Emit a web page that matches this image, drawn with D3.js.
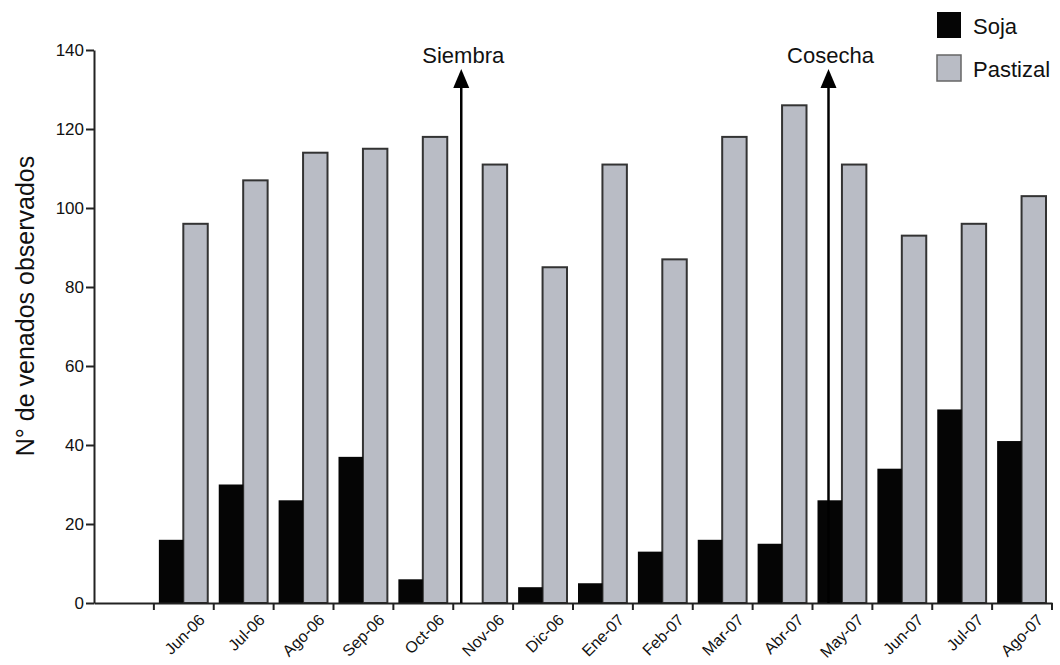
<!DOCTYPE html>
<html>
<head>
<meta charset="utf-8">
<script src="https://cdn.jsdelivr.net/npm/d3@7"></script>
<style>
  body { margin: 0; background: #fff; }
  svg { display: block; font-family: "Liberation Sans", Arial, sans-serif; }
  .axis path, .axis line { stroke: #222; stroke-width: 2; }
  .axis text { font-size: 17px; fill: #111; font-family: "Liberation Sans", Arial, sans-serif; }
</style>
</head>
<body>
<div id="chart"></div>
<script>
const months = ["Jun-06", "Jul-06", "Ago-06", "Sep-06", "Oct-06", "Nov-06", "Dic-06", "Ene-07",
  "Feb-07", "Mar-07", "Abr-07", "May-07", "Jun-07", "Jul-07", "Ago-07"];
const soja = [16, 30, 26, 37, 6, 0, 4, 5, 13, 16, 15, 26, 34, 49, 41];
const pastizal = [96, 107, 114, 115, 118, 111, 85, 111, 87, 118, 126, 111, 93, 96, 103];
const series = ["Soja", "Pastizal"];
const yTicks = [0, 20, 40, 60, 80, 100, 120, 140];
const events = [{ label: "Siembra", month: "Nov-06" }, { label: "Cosecha", month: "May-07" }];

const W = 1060, H = 665;
const colors = { Soja: "#050505", Pastizal: "#b9bcc5" };

const svg = d3.select("#chart").append("svg")
  .attr("width", W)
  .attr("height", H);

// first band is left empty, like the original
const x = d3.scaleBand()
  .domain([""].concat(months))
  .range([94, 1052]);
const bw = x.bandwidth();

const inner = d3.scaleBand()
  .domain(series)
  .range([5, bw - 6]);

const y = d3.scaleLinear()
  .domain([0, 140])
  .range([603, 50]);

// bars
const groups = svg.selectAll("g.month")
  .data(months)
  .enter().append("g")
  .attr("class", "month")
  .attr("transform", d => `translate(${x(d)},0)`);

groups.append("rect")
  .attr("x", inner("Pastizal"))
  .attr("y", (d, i) => y(pastizal[i]))
  .attr("width", inner.bandwidth())
  .attr("height", (d, i) => y(0) - y(pastizal[i]))
  .attr("fill", colors.Pastizal)
  .attr("stroke", "#333")
  .attr("stroke-width", 2);

groups.append("rect")
  .attr("x", inner("Soja"))
  .attr("y", (d, i) => y(soja[i]))
  .attr("width", inner.bandwidth())
  .attr("height", (d, i) => y(0) - y(soja[i]))
  .attr("fill", colors.Soja);

// y axis
svg.append("g")
  .attr("class", "axis")
  .attr("transform", "translate(94,0)")
  .call(d3.axisLeft(y).tickValues(yTicks).tickSize(8).tickPadding(2).tickSizeOuter(0));

// x axis, ticks sit on the right edge of each band
const xAxis = svg.append("g")
  .attr("class", "axis")
  .attr("transform", `translate(0,${y(0)})`)
  .call(d3.axisBottom(x).tickSize(7).tickSizeOuter(0).tickFormat(""));
xAxis.selectAll(".tick")
  .attr("transform", d => `translate(${x(d) + bw},0)`);

svg.append("g")
  .selectAll("text")
  .data(months)
  .enter().append("text")
  .attr("text-anchor", "end")
  .attr("font-size", 16)
  .attr("fill", "#111")
  .attr("transform", d => `translate(${x(d) + bw / 2 + 22},${y(0) + 18}) rotate(-45)`)
  .text(d => d);

// y label
svg.append("text")
  .attr("transform", `translate(34,306) rotate(-90)`)
  .attr("text-anchor", "middle")
  .attr("font-size", 25)
  .attr("fill", "#111")
  .text("N° de venados observados");

// Siembra / Cosecha arrows
const ev = svg.selectAll("g.event")
  .data(events)
  .enter().append("g")
  .attr("class", "event")
  .attr("transform", (d, i) => `translate(${x(d.month) + (i === 0 ? 8 : 16)},0)`);

ev.append("line")
  .attr("x1", 0).attr("x2", 0)
  .attr("y1", y(0)).attr("y2", 84)
  .attr("stroke", "#000")
  .attr("stroke-width", 2.5);

ev.append("path")
  .attr("d", "M0,69 L-8,88 L8,88 Z")
  .attr("fill", "#000");

ev.append("text")
  .attr("x", 2)
  .attr("y", 63)
  .attr("text-anchor", "middle")
  .attr("font-size", 22)
  .attr("fill", "#111")
  .text(d => d.label);

// legend
const legend = svg.selectAll("g.legend")
  .data(series)
  .enter().append("g")
  .attr("class", "legend")
  .attr("transform", (d, i) => `translate(937,${12 + i * 43})`);

legend.append("rect")
  .attr("width", 24)
  .attr("height", 26)
  .attr("fill", d => colors[d])
  .attr("stroke", d => d === "Soja" ? "none" : "#666")
  .attr("stroke-width", 1.5);

legend.append("text")
  .attr("x", 36)
  .attr("y", 22)
  .attr("font-size", 22)
  .attr("fill", "#111")
  .text(d => d);
</script>
</body>
</html>
